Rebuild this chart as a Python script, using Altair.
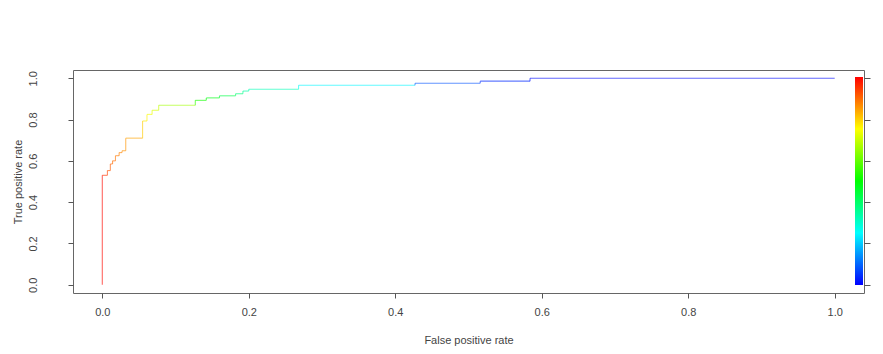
import altair as alt
import pandas as pd

# ROC curve points
fpr = [0.0, 0.0, 0.007, 0.007, 0.011, 0.011, 0.014, 0.014, 0.018, 0.018,
       0.023, 0.023, 0.027, 0.027, 0.032, 0.032, 0.055, 0.055, 0.061, 0.061,
       0.068, 0.068, 0.077, 0.077, 0.127, 0.127, 0.142, 0.142, 0.160, 0.160,
       0.182, 0.182, 0.192, 0.192, 0.200, 0.200, 0.268, 0.268, 0.427, 0.427,
       0.516, 0.516, 0.584, 0.584, 1.0]
tpr = [0.0, 0.53, 0.53, 0.553, 0.553, 0.585, 0.585, 0.60, 0.60, 0.625,
       0.625, 0.64, 0.64, 0.649, 0.649, 0.71, 0.71, 0.793, 0.793, 0.825,
       0.825, 0.845, 0.845, 0.869, 0.869, 0.893, 0.893, 0.905, 0.905, 0.915,
       0.915, 0.925, 0.925, 0.938, 0.938, 0.947, 0.947, 0.966, 0.966, 0.976,
       0.976, 0.986, 0.986, 1.0, 1.0]
cutoff = [0.99, 0.95, 0.93, 0.92, 0.91, 0.90, 0.895, 0.89, 0.885, 0.88,
          0.875, 0.87, 0.865, 0.86, 0.855, 0.84, 0.80, 0.77, 0.76, 0.74,
          0.73, 0.71, 0.70, 0.66, 0.55, 0.52, 0.50, 0.48, 0.45, 0.43,
          0.40, 0.38, 0.36, 0.34, 0.33, 0.32, 0.26, 0.24, 0.10, 0.08,
          0.05, 0.04, 0.02, 0.01, 0.0]

tick_vals = [0.0, 0.2, 0.4, 0.6, 0.8, 1.0]
rainbow = ["#0000ff", "#00ffff", "#00ff00", "#ffff00", "#ff0000"]
rainbow_stops = [0.0, 0.25, 0.5, 0.75, 1.0]

seg = pd.DataFrame({
    "x": fpr[:-1], "x2": fpr[1:],
    "y": tpr[:-1], "y2": tpr[1:],
    "cutoff": cutoff[:-1],
})

FONT = "Liberation Sans"
xscale = alt.Scale(domain=[-0.04, 1.04], nice=False, zero=False)
yscale = alt.Scale(domain=[-0.04, 1.04], nice=False, zero=False)

curve = alt.Chart(seg).mark_rule(strokeWidth=1.1, opacity=0.62).encode(
    x=alt.X("x:Q", scale=xscale,
            axis=alt.Axis(values=tick_vals, format=".1f", title="False positive rate",
                          grid=False, domain=False, tickSize=5, tickColor="#555",
                          labelPadding=8, titlePadding=17, labelFontSize=11,
                          titleFontSize=11, titleFontWeight="normal",
                          labelColor="#444", titleColor="#444",
                          labelFont=FONT, titleFont=FONT)),
    x2="x2:Q",
    y=alt.Y("y:Q", scale=yscale,
            axis=alt.Axis(values=tick_vals, format=".1f", title="True positive rate",
                          grid=False, domain=False, tickSize=5, tickColor="#555",
                          labelAngle=270, labelPadding=30, titlePadding=4,
                          labelFontSize=11, titleFontSize=11,
                          titleFontWeight="normal", labelColor="#444",
                          titleColor="#444", labelFont=FONT, titleFont=FONT)),
    y2="y2:Q",
    color=alt.Color("cutoff:Q",
                    scale=alt.Scale(domain=rainbow_stops, range=rainbow, interpolate="rgb"),
                    legend=alt.Legend(orient="none", legendX=782, legendY=7,
                                      direction="vertical", gradientLength=208,
                                      gradientThickness=8, gradientStrokeWidth=0,
                                      gradientOpacity=1,
                                      title=None, labelExpr="''", padding=0)),
)

key_axis = alt.Chart(pd.DataFrame({"v": tick_vals})).mark_point(opacity=0).encode(
    x=alt.value(0),
    y=alt.Y("v:Q", scale=yscale,
            axis=alt.Axis(orient="right", values=tick_vals, labels=False, title=None,
                          grid=False, domain=False, tickSize=6, tickColor="#555")),
)

chart = alt.layer(curve, key_axis).resolve_axis(y="independent").properties(
    width=791, height=223,
    padding={"left": 65, "top": 62, "right": 11, "bottom": 53},
    autosize=alt.AutoSizeParams(type="none"),
    background="white",
).configure_view(stroke="#666", strokeWidth=1)

chart.save("out.html", embed_options={"renderer": "svg", "actions": False})
